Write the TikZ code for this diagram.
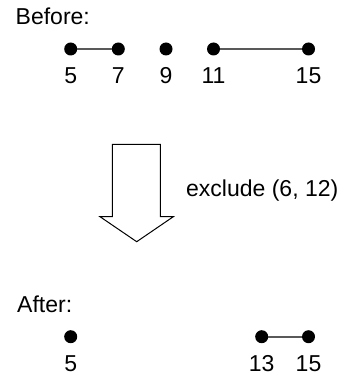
\documentclass[tikz,border=0pt]{standalone}
\usepackage{fontspec}
\setmainfont{Liberation Sans}
\begin{document}
\begin{tikzpicture}[x=1pt,y=-1pt,
  dot/.style={circle,fill=black,inner sep=0pt,minimum size=13pt},
  lbl/.style={font=\fontsize{23}{27}\selectfont,inner sep=0pt,anchor=base},
  txt/.style={font=\fontsize{23}{27}\selectfont,inner sep=0pt,anchor=base west},
  seg/.style={draw=black!65,line width=1.7pt},
  bigarrow/.style={draw=black,line width=1pt,fill=white,line join=miter}]
\useasboundingbox (0,0) rectangle (344,379);
% Before
\node[txt] (before) at (15.5,25) {Before:};
\node[dot] (b5) at (70.7,49) {};
\node[dot] (b7) at (118.3,49) {};
\node[dot] (b9) at (166,49) {};
\node[dot] (b11) at (213.5,49) {};
\node[dot] (b15) at (308.5,49) {};
\draw[seg] (b5) -- (b7);
\draw[seg] (b11) -- (b15);
\node[lbl] (l5) at (70.7,83.3) {5};
\node[lbl] (l7) at (118.3,83.3) {7};
\node[lbl] (l9) at (166,83.3) {9};
\node[lbl] (l11) at (213.5,83.3) {11};
\node[lbl] (l15) at (308.5,83.3) {15};
% arrow
\draw[bigarrow] (112.3,144.3) -- (160.3,144.3) -- (160.3,216.7) -- (173.3,216.7)
  -- (136.7,241.7) -- (100,216.7) -- (112.3,216.7) -- cycle;
\node[txt] (excl) at (186,196.7) {exclude (6, 12)};
% After
\node[txt] (after) at (17,312) {After:};
\node[dot] (a5) at (70.7,336.7) {};
\node[dot] (a13) at (261.7,336.7) {};
\node[dot] (a15) at (308.5,336.7) {};
\draw[seg] (a13) -- (a15);
\node[lbl] (m5) at (70.7,371.5) {5};
\node[lbl] (m13) at (261.7,371.5) {13};
\node[lbl] (m15) at (308.5,371.5) {15};
\end{tikzpicture}
\end{document}
